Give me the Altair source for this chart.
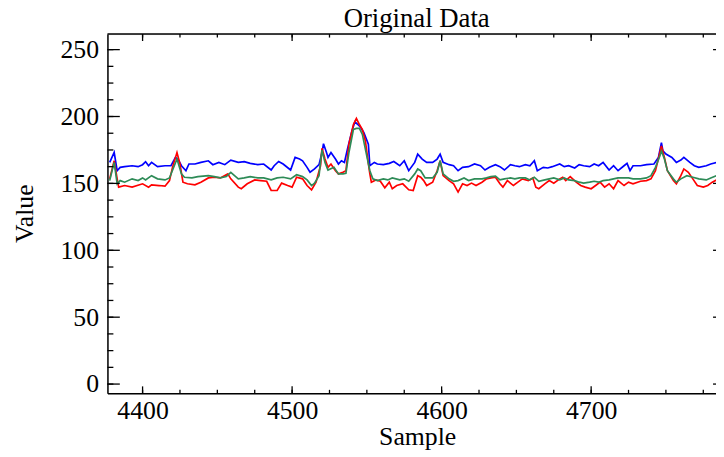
import altair as alt
import pandas as pd

# ---- data ----
blue_x = [4378, 4381, 4383, 4385, 4388, 4393, 4397, 4400, 4402, 4404, 4406, 4410, 4415, 4419, 4422, 4424, 4426, 4429, 4431, 4435,
          4439, 4444, 4447, 4451, 4455, 4459, 4464, 4468, 4472, 4477, 4481, 4486, 4488, 4491, 4494, 4499, 4502, 4505, 4507, 4510,
          4512, 4515, 4518, 4520, 4521, 4523, 4524, 4526, 4529, 4531, 4533, 4535, 4537, 4540, 4542, 4544, 4546, 4548, 4551, 4552,
          4555, 4557, 4561, 4565, 4568, 4572, 4575, 4578, 4582, 4584, 4587, 4590, 4594, 4597, 4599, 4601, 4605, 4608, 4611, 4614,
          4618, 4622, 4626, 4629, 4632, 4636, 4639, 4642, 4646, 4649, 4652, 4656, 4659, 4662, 4664, 4668, 4671, 4674, 4679, 4682,
          4685, 4689, 4692, 4695, 4699, 4702, 4705, 4708, 4712, 4715, 4718, 4722, 4724, 4726, 4728, 4733, 4737, 4742, 4745, 4747,
          4748, 4750, 4754, 4757, 4760, 4762, 4766, 4769, 4772, 4777, 4780, 4784]
blue_y = [165.7, 173.1, 159.5, 162.0, 162.5, 163.2, 162.5, 164.0, 166.2, 163.2, 165.7, 162.5, 163.2, 163.2, 169.4, 167.4, 163.2, 159.5, 164.5, 164.5,
          165.7, 166.9, 164.0, 165.7, 164.0, 167.4, 165.7, 166.2, 165.0, 164.0, 164.5, 160.0, 163.2, 166.4, 164.5, 160.0, 169.4, 168.2, 166.9, 162.0,
          158.3, 160.8, 164.0, 173.1, 179.7, 173.1, 169.4, 173.1, 168.2, 164.5, 166.9, 165.7, 175.6, 189.1, 196.0, 194.0, 191.6, 187.9, 179.3, 163.2,
          165.7, 164.5, 164.0, 165.0, 166.4, 163.2, 166.9, 159.5, 165.7, 171.9, 168.2, 165.7, 165.7, 168.2, 171.9, 165.7, 164.0, 163.2, 159.5, 162.0,
          162.5, 164.5, 163.2, 160.0, 162.0, 164.0, 162.5, 160.0, 164.0, 163.2, 162.5, 164.0, 163.2, 166.9, 159.5, 162.0, 161.5, 162.5, 164.5, 162.5,
          163.2, 161.5, 164.0, 163.2, 162.5, 164.5, 163.2, 165.7, 160.0, 163.2, 159.5, 163.2, 165.0, 159.5, 163.2, 163.2, 164.0, 164.5, 169.4, 180.5,
          174.3, 171.9, 169.4, 165.7, 167.4, 169.4, 165.7, 163.2, 162.0, 163.2, 164.5, 165.7]

red_x = [4378, 4381, 4383, 4384, 4388, 4393, 4400, 4404, 4406, 4411, 4415, 4418, 4420, 4423, 4425, 4427, 4430, 4435, 4439, 4444,
         4448, 4452, 4457, 4459, 4464, 4466, 4470, 4475, 4479, 4483, 4486, 4490, 4493, 4497, 4500, 4503, 4507, 4510, 4513, 4516,
         4519, 4520, 4522, 4524, 4526, 4529, 4531, 4534, 4536, 4538, 4541, 4543, 4545, 4547, 4549, 4551, 4552, 4553, 4556, 4559,
         4562, 4565, 4567, 4570, 4574, 4578, 4581, 4584, 4586, 4588, 4590, 4594, 4597, 4599, 4601, 4605, 4608, 4611, 4614, 4617,
         4620, 4623, 4627, 4630, 4633, 4636, 4639, 4641, 4644, 4648, 4651, 4654, 4658, 4661, 4663, 4665, 4669, 4672, 4675, 4679,
         4681, 4683, 4686, 4690, 4693, 4696, 4700, 4703, 4706, 4709, 4712, 4715, 4718, 4722, 4725, 4728, 4733, 4737, 4740, 4743,
         4746, 4747, 4749, 4751, 4755, 4757, 4760, 4762, 4765, 4768, 4771, 4775, 4778, 4781, 4784]
red_y = [153.4, 166.9, 153.4, 147.2, 148.4, 147.2, 149.7, 147.2, 148.9, 148.4, 147.9, 152.1, 162.0, 173.1, 164.5, 150.9, 149.7, 148.9, 150.9, 154.1,
         154.6, 154.1, 157.1, 153.4, 147.2, 146.0, 149.7, 152.6, 152.1, 151.6, 144.7, 144.7, 150.2, 148.4, 147.2, 154.6, 153.4, 148.4, 145.2, 150.9,
         163.2, 176.3, 168.2, 162.0, 164.5, 159.5, 157.1, 158.3, 159.5, 179.3, 194.0, 198.5, 194.0, 190.3, 181.7, 165.0, 157.1, 150.9, 152.6, 151.6,
         146.7, 150.9, 146.0, 148.4, 149.7, 145.2, 144.7, 155.8, 154.6, 152.1, 148.4, 150.9, 159.5, 166.9, 155.8, 152.1, 149.7, 143.5, 149.7, 148.4,
         150.2, 148.4, 150.9, 153.4, 154.1, 154.6, 149.7, 147.2, 152.1, 148.4, 150.9, 153.4, 152.1, 154.1, 147.2, 146.0, 149.7, 152.1, 150.2, 153.4,
         154.6, 152.1, 155.1, 150.9, 148.4, 147.2, 146.0, 148.4, 150.9, 147.2, 149.7, 146.0, 152.1, 148.4, 150.9, 149.7, 151.6, 152.1, 153.4, 159.5,
         173.1, 178.0, 169.4, 159.5, 152.1, 149.7, 155.8, 160.8, 158.3, 153.4, 148.4, 147.2, 148.4, 150.9, 152.6]

green_x = [4378, 4381, 4383, 4385, 4388, 4393, 4397, 4400, 4402, 4406, 4410, 4415, 4418, 4423, 4426, 4428, 4433, 4437, 4444, 4448,
           4452, 4456, 4459, 4464, 4468, 4472, 4477, 4481, 4486, 4490, 4494, 4499, 4503, 4507, 4510, 4513, 4515, 4518, 4519, 4520,
           4522, 4524, 4528, 4531, 4534, 4536, 4538, 4541, 4543, 4545, 4547, 4549, 4552, 4554, 4557, 4561, 4564, 4567, 4572, 4575,
           4578, 4582, 4584, 4586, 4589, 4594, 4597, 4599, 4601, 4605, 4608, 4611, 4615, 4618, 4622, 4627, 4630, 4633, 4636, 4639,
           4642, 4646, 4649, 4652, 4656, 4659, 4662, 4665, 4669, 4672, 4675, 4679, 4682, 4685, 4689, 4692, 4695, 4699, 4702, 4705,
           4708, 4712, 4715, 4718, 4722, 4725, 4728, 4733, 4737, 4740, 4743, 4746, 4747, 4749, 4751, 4755, 4757, 4760, 4764, 4768,
           4772, 4777, 4780, 4784]
green_y = [152.1, 165.7, 149.7, 152.1, 150.9, 153.4, 152.1, 154.1, 152.6, 155.8, 153.4, 152.6, 154.1, 168.2, 157.1, 154.6, 154.1, 155.1, 155.8, 155.1,
           154.1, 155.1, 158.3, 153.4, 154.1, 155.1, 154.1, 154.1, 152.6, 154.1, 154.6, 153.4, 156.5, 155.1, 152.6, 148.4, 150.2, 155.8, 165.7, 174.8,
           165.7, 160.0, 162.0, 157.1, 157.1, 157.6, 173.1, 190.3, 191.1, 191.1, 186.6, 175.6, 159.5, 153.4, 152.1, 153.4, 152.6, 154.1, 152.6, 153.4,
           151.6, 157.1, 160.8, 159.5, 154.1, 154.1, 158.3, 166.9, 157.1, 153.4, 151.6, 152.1, 154.1, 152.1, 153.4, 153.4, 154.1, 155.1, 155.5, 152.6,
           153.4, 154.1, 153.4, 154.1, 154.1, 152.6, 154.6, 151.6, 152.6, 153.4, 154.1, 152.6, 154.1, 152.6, 152.1, 150.9, 150.2, 150.9, 151.6, 150.9,
           152.1, 152.6, 153.4, 154.1, 154.1, 154.1, 153.4, 153.4, 154.1, 155.8, 162.0, 170.6, 174.3, 168.2, 159.5, 153.4, 150.9, 153.4, 155.8, 154.6,
           153.4, 152.6, 154.1, 155.8]

x_major = [4400, 4500, 4600, 4700]
x_minor = [4400, 4425, 4450, 4475, 4500, 4525, 4550, 4575, 4600, 4625, 4650, 4675, 4700, 4725, 4750, 4775]
y_major = [0, 50, 100, 150, 200, 250]
y_minor = [0, 12.5, 25, 37.5, 50, 62.5, 75, 87.5, 100, 112.5, 125, 137.5, 150, 162.5, 175, 187.5, 200,
           212.5, 225, 237.5, 250]

# ---- layout ----
W, H = 615, 363
XDOM = [4376.5, 4783.5]
YDOM = [-6.9, 261.6]
FONT = "Liberation Serif"

xdef = alt.X("x:Q", scale=alt.Scale(domain=XDOM, nice=False, zero=False),
             axis=alt.Axis(values=x_major, format="d", ticks=False, tickSize=0, grid=False,
                           domainColor="black", domainWidth=1.5, labelFont=FONT, labelFontSize=26,
                           labelColor="black", labelPadding=4, labelFlush=False,
                           title="Sample", titleFont=FONT, titleFontSize=26, titleFontWeight="normal",
                           titleColor="black", titleX=313, titleY=52, titleBaseline="alphabetic"))
ydef = alt.Y("y:Q", scale=alt.Scale(domain=YDOM, nice=False, zero=False),
             axis=alt.Axis(values=y_major, ticks=False, tickSize=0, grid=False,
                           domainColor="black", domainWidth=1.5, labelFont=FONT, labelFontSize=26,
                           labelColor="black", labelPadding=9, labelFlush=False,
                           title="Value", titleFont=FONT, titleFontSize=26, titleFontWeight="normal",
                           titleColor="black", titleX=-76, titleY=181, titleBaseline="alphabetic"))


def series(xs, ys, color):
    df = pd.DataFrame({"x": xs, "y": ys})
    return alt.Chart(df).mark_line(color=color, strokeWidth=1.7, clip=True).encode(x=xdef, y=ydef)


def ticks_x(vals, y0, y1):
    return alt.Chart(pd.DataFrame({"x": vals})).mark_rule(color="black", strokeWidth=1.3).encode(
        x=xdef, y=alt.value(y0), y2=alt.value(y1))


def ticks_y(vals, x0, x1):
    return alt.Chart(pd.DataFrame({"y": vals})).mark_rule(color="black", strokeWidth=1.3).encode(
        y=ydef, x=alt.value(x0), x2=alt.value(x1))


top_border = alt.Chart(pd.DataFrame({"x": [0]})).mark_rule(color="black", strokeWidth=1.5).encode(
    x=alt.value(0), x2=alt.value(W + 20), y=alt.value(0))

layers = [
    series(blue_x, blue_y, "#0000ff"),
    series(red_x, red_y, "#ff0000"),
    series(green_x, green_y, "#2e8b57"),
    ticks_x(x_major, H, H - 7), ticks_x(x_minor, H, H - 3.5),
    ticks_x(x_major, 0, 7), ticks_x(x_minor, 0, 3.5),
    ticks_y(y_major, 0, 12.5), ticks_y(y_minor, 0, 6),
    ticks_y(y_major, W + 9.5, W - 3), ticks_y(y_minor, W + 9.5, W + 3.5),
    top_border,
]

chart = alt.layer(*layers).properties(
    width=W, height=H,
    title=alt.TitleParams("Original Data", font=FONT, fontSize=27, fontWeight="normal",
                          color="black", anchor="middle", offset=0, dx=5),
    autosize=alt.AutoSizeParams(type="none"),
    padding={"left": 100.5, "top": 24, "right": 0, "bottom": 62},
).configure_view(stroke=None).configure(background="white")

chart.save("out.html", embed_options={"renderer": "svg", "actions": False})
